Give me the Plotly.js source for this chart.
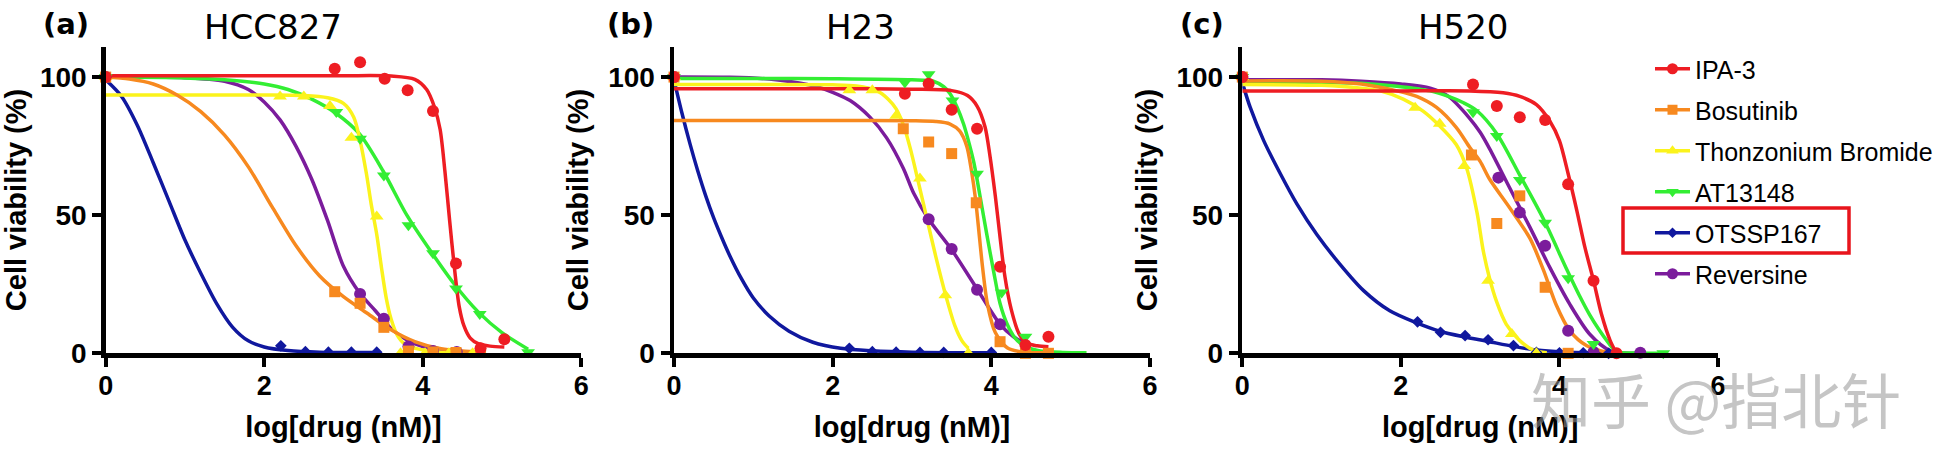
<!DOCTYPE html>
<html><head><meta charset="utf-8">
<script src="https://cdn.plot.ly/plotly-3.0.1.min.js"></script>
<style>html,body{margin:0;padding:0;background:#fff;}#chart{width:1946px;height:474px;}</style>
</head><body><div id="chart"></div>
<script>
// ---------------- data ----------------
const drugs = ['IPA-3', 'Bosutinib', 'Thonzonium Bromide', 'AT13148', 'OTSSP167', 'Reversine'];
const cellLines = ['HCC827', 'H23', 'H520'];
const panelLabels = ['(a)', '(b)', '(c)'];
const xTicks = [0, 2, 4, 6];
const yTicks = [0, 50, 100];

// ---- (a) HCC827: measured points ----
const a_ipa3_x = [0, 2.89, 3.21, 3.52, 3.81, 4.13, 4.42, 4.73, 5.03];
const a_ipa3_y = [100, 103, 105.4, 99.4, 95.2, 87.7, 32.5, 1.8, 5.1];
const a_bos_x = [0, 2.89, 3.21, 3.51, 3.82, 4.13, 4.42, 4.73];
const a_bos_y = [100, 22.3, 18.1, 9.4, 0.8, 0.5, 0.3, 0.5];
const a_thz_x = [0, 2.2, 2.5, 2.83, 3.1, 3.42, 3.72, 4.03, 4.33, 4.63];
const a_thz_y = [100, 93, 93, 89.5, 78, 49.5, 0, 0, 0, 0];
const a_at_x = [0, 2.91, 3.21, 3.51, 3.82, 4.13, 4.42, 4.72, 5.33];
const a_at_y = [100, 87.4, 77.7, 64.4, 46.4, 36.2, 23.5, 14.2, 0.4];
const a_ots_x = [0, 2.21, 2.52, 2.81, 3.1, 3.42];
const a_ots_y = [100, 2.7, 0.6, 0.4, 0.4, 0.4];
const a_rev_x = [0, 3.21, 3.51, 3.82, 4.13, 4.43];
const a_rev_y = [100, 21.5, 12.5, 2.5, 0.8, 0.5];
// ---- (a) HCC827: fitted curves ----
const a_ipa3_fx = [0, 1, 2, 3, 3.6, 3.9, 4.05, 4.15, 4.22, 4.28, 4.34, 4.4, 4.46, 4.52, 4.6, 4.7, 4.85, 5.03];
const a_ipa3_fy = [100.5, 100.5, 100.5, 100.5, 100.4, 99.2, 95.5, 89, 81, 66, 48, 31, 17, 10, 5.5, 3.5, 2.6, 2.3];
const a_bos_fx = [0, 0.3, 0.6, 0.9, 1.2, 1.5, 1.8, 2.1, 2.4, 2.7, 3.0, 3.3, 3.6, 3.9, 4.2, 4.5, 4.73];
const a_bos_fy = [100, 99.3, 97.5, 93.5, 87.5, 79, 67.5, 53, 39, 28, 20.5, 14.5, 8.5, 4.2, 1.8, 0.8, 0.5];
const a_thz_fx = [0, 1, 2, 2.5, 2.8, 3.0, 3.13, 3.21, 3.29, 3.35, 3.42, 3.48, 3.54, 3.6, 3.68, 3.78, 3.95, 4.2, 4.63];
const a_thz_fy = [93.5, 93.5, 93.5, 93.3, 92.5, 90.5, 85.5, 77, 65, 54, 43, 31, 20, 12.5, 6.5, 3.2, 1.5, 0.5, 0.1];
const a_at_fx = [0, 1, 1.5, 2, 2.3, 2.6, 2.9, 3.2, 3.5, 3.8, 4.1, 4.4, 4.7, 5.0, 5.33];
const a_at_fy = [100, 99.7, 99, 97.5, 95.5, 92, 87, 79.5, 66, 50, 37, 25, 15, 7.5, 1.5];
const a_ots_fx = [0, 0.2, 0.4, 0.6, 0.8, 1.0, 1.2, 1.4, 1.6, 1.8, 2.0, 2.3, 2.7, 3.42];
const a_ots_fy = [99, 93, 82.5, 69, 55, 41, 29, 18, 9.5, 4.5, 2.3, 1, 0.4, 0.3];
const a_rev_fx = [0, 1, 1.5, 1.8, 2.0, 2.2, 2.4, 2.6, 2.8, 3.0, 3.2, 3.4, 3.6, 3.8, 4.0, 4.2, 4.43];
const a_rev_fy = [100, 99.8, 98.5, 95.5, 91, 84.5, 75, 63, 48, 31.5, 22, 15.5, 9, 4.8, 2.4, 1.2, 0.5];

// ---- (b) H23: measured points ----
const b_ipa3_x = [0, 2.91, 3.21, 3.5, 3.82, 4.11, 4.43, 4.72];
const b_ipa3_y = [100, 94, 97.6, 88.2, 81.3, 31.3, 3, 6];
const b_bos_x = [0, 2.89, 3.21, 3.5, 3.81, 4.11, 4.43, 4.72];
const b_bos_y = [100, 81.3, 76.5, 72.3, 54.5, 4.2, 0, 0];
const b_thz_x = [0, 2.21, 2.5, 2.8, 3.1, 3.42, 3.71];
const b_thz_y = [100, 95.2, 95.2, 86, 63.3, 21, 0];
const b_at_x = [0, 2.91, 3.21, 3.51, 3.82, 4.13, 4.43];
const b_at_y = [100, 98, 101, 91.5, 65, 22, 6];
const b_ots_x = [0, 2.21, 2.5, 2.8, 3.1, 3.4, 4.0];
const b_ots_y = [100, 1.8, 0.6, 0.4, 0.3, 0.3, 0.3];
const b_rev_x = [0, 3.21, 3.5, 3.82, 4.11];
const b_rev_y = [100, 48.5, 37.8, 23, 10.5];
// ---- (b) H23: fitted curves ----
const b_ipa3_fx = [0, 1, 2, 3, 3.5, 3.7, 3.82, 3.92, 3.98, 4.05, 4.11, 4.17, 4.25, 4.35, 4.45, 4.58, 4.72];
const b_ipa3_fy = [95.8, 95.8, 95.8, 95.6, 95.1, 93.3, 89.5, 82, 72, 57, 42, 28, 16, 7, 3.6, 2.7, 2.4];
const b_bos_fx = [0, 1, 2, 3, 3.3, 3.48, 3.6, 3.69, 3.75, 3.8, 3.84, 3.89, 3.95, 4.05, 4.2, 4.36, 4.72];
const b_bos_fy = [84.3, 84.3, 84.3, 84.2, 83.9, 83, 80.5, 75, 66, 56, 45, 31, 18, 7.5, 2, 0.6, 0.2];
const b_thz_fx = [0, 1, 2, 2.3, 2.56, 2.7, 2.8, 2.9, 2.98, 3.08, 3.19, 3.3, 3.42, 3.54, 3.63, 3.71];
const b_thz_fy = [97.3, 97.3, 97.2, 96.8, 95, 92, 88.5, 82, 74, 62, 48.5, 35, 21.5, 10, 4.5, 1.8];
const b_at_fx = [0, 1, 2, 3, 3.27, 3.4, 3.48, 3.57, 3.65, 3.72, 3.78, 3.86, 3.94, 4.03, 4.11, 4.2, 4.3, 4.42, 4.6, 4.9, 5.2];
const b_at_fy = [99.5, 99.5, 99.4, 99, 98.5, 96.5, 94, 89, 83, 76, 69, 56.5, 43.5, 29.5, 18, 10.5, 5.5, 2.6, 0.9, 0.3, 0.2];
const b_ots_fx = [0, 0.1, 0.2, 0.3, 0.4, 0.5, 0.6, 0.7, 0.85, 1.0, 1.2, 1.45, 1.75, 2.1, 2.5, 3.0, 4.0];
const b_ots_fy = [99, 87, 76, 66, 57, 49, 42, 35.5, 27, 20, 13.5, 8, 4, 1.8, 0.9, 0.4, 0.2];
const b_rev_fx = [0, 0.7, 1.2, 1.5, 1.8, 2.0, 2.22, 2.47, 2.68, 2.89, 3.02, 3.21, 3.5, 3.82, 4.11, 4.28, 4.43];
const b_rev_fy = [100, 99.9, 99.3, 98.2, 96.5, 94.5, 91.5, 85.5, 78, 67, 58, 48.5, 37.5, 23.3, 10.5, 6, 3.5];

// ---- (c) H520: measured points ----
const c_ipa3_x = [0, 2.91, 3.21, 3.5, 3.82, 4.11, 4.43, 4.72];
const c_ipa3_y = [100, 97.3, 89.5, 85.5, 84.5, 61.2, 26.3, 0];
const c_bos_x = [0, 2.89, 3.21, 3.5, 3.82, 4.11];
const c_bos_y = [100, 71.8, 47, 57, 23.9, 0];
const c_thz_x = [0, 2.18, 2.49, 2.8, 3.1, 3.4, 3.71];
const c_thz_y = [100, 88.9, 83.1, 67.8, 26.3, 7, 0];
const c_at_x = [0, 2.91, 3.21, 3.5, 3.82, 4.11, 4.43, 5.31];
const c_at_y = [100, 87.3, 78.7, 62.7, 47.3, 27.2, 3.4, 0];
const c_ots_x = [0, 2.21, 2.5, 2.81, 3.1, 3.42, 3.71, 4.0, 4.3, 4.62];
const c_ots_y = [100, 11.4, 7.6, 6.4, 4.9, 2.8, 0.3, 0.2, 0.2, 0];
const c_rev_x = [0, 3.23, 3.5, 3.82, 4.11, 4.43, 5.02];
const c_rev_y = [100, 63.6, 51, 38.9, 8.2, 0.5, 0.2];
// ---- (c) H520: fitted curves ----
const c_ipa3_fx = [0, 1, 2, 2.87, 3.29, 3.5, 3.71, 3.88, 4.0, 4.11, 4.22, 4.32, 4.43, 4.53, 4.64, 4.72];
const c_ipa3_fy = [95, 95, 95, 95, 94.3, 93, 90, 84, 77, 65, 51.6, 38.5, 26.3, 14.2, 4.6, 0];
const c_bos_fx = [0, 1, 1.5, 1.95, 2.2, 2.45, 2.7, 2.87, 3.0, 3.12, 3.37, 3.63, 3.8, 3.96, 4.13, 4.34, 4.59];
const c_bos_fy = [98.6, 98.5, 97.5, 95, 93, 89, 81.7, 74.5, 69.5, 63, 52.8, 41.5, 30, 17.5, 8.2, 2.8, 0.4];
const c_thz_fx = [0, 1, 1.5, 1.74, 2.03, 2.28, 2.49, 2.7, 2.83, 2.96, 3.04, 3.12, 3.21, 3.33, 3.5, 3.67, 3.84];
const c_thz_fy = [97.3, 97, 96, 95, 92, 87.7, 82.3, 75.5, 67, 51, 37, 27, 18.5, 10.5, 4.6, 1.2, 0.2];
const c_at_fx = [0, 1, 1.5, 1.95, 2.37, 2.6, 2.79, 2.96, 3.21, 3.5, 3.8, 4.09, 4.25, 4.38, 4.5, 4.6, 4.72, 5.0, 5.31];
const c_at_fy = [98.2, 98.1, 97.8, 96.7, 95, 93, 90.7, 87.8, 79.5, 64.5, 48.5, 30.5, 21, 14, 8.5, 4.5, 0.6, 0.1, 0];
const c_ots_fx = [0, 0.1, 0.27, 0.48, 0.69, 0.94, 1.23, 1.53, 1.86, 2.2, 2.49, 2.79, 3.1, 3.42, 3.71, 4.05, 4.62];
const c_ots_fy = [98, 89, 77, 65, 54, 43, 32.3, 22.7, 15.4, 11, 8, 6, 4.3, 2.5, 1.2, 0.5, 0.1];
const c_rev_fx = [0, 1, 1.5, 2, 2.37, 2.6, 2.87, 3.0, 3.12, 3.37, 3.63, 3.88, 4.13, 4.38, 4.64, 5.02];
const c_rev_fy = [99, 99, 98.5, 97.5, 96, 93, 85, 80, 74, 60, 45.5, 31, 17.8, 7, 1, 0];

// ---------------- styles ----------------
const colors = ['#ee1d23', '#f7891f', '#fbf31c', '#33ee33', '#10189e', '#7b1c9c'];
const symbols = ['circle', 'square', 'triangle-up', 'triangle-down', 'diamond', 'circle'];
const msizes = [12, 11, 12, 12, 9, 12];

const panels = [
  { pts: [[a_ipa3_x, a_ipa3_y], [a_bos_x, a_bos_y], [a_thz_x, a_thz_y], [a_at_x, a_at_y], [a_ots_x, a_ots_y], [a_rev_x, a_rev_y]],
    fit: [[a_ipa3_fx, a_ipa3_fy], [a_bos_fx, a_bos_fy], [a_thz_fx, a_thz_fy], [a_at_fx, a_at_fy], [a_ots_fx, a_ots_fy], [a_rev_fx, a_rev_fy]] },
  { pts: [[b_ipa3_x, b_ipa3_y], [b_bos_x, b_bos_y], [b_thz_x, b_thz_y], [b_at_x, b_at_y], [b_ots_x, b_ots_y], [b_rev_x, b_rev_y]],
    fit: [[b_ipa3_fx, b_ipa3_fy], [b_bos_fx, b_bos_fy], [b_thz_fx, b_thz_fy], [b_at_fx, b_at_fy], [b_ots_fx, b_ots_fy], [b_rev_fx, b_rev_fy]] },
  { pts: [[c_ipa3_x, c_ipa3_y], [c_bos_x, c_bos_y], [c_thz_x, c_thz_y], [c_at_x, c_at_y], [c_ots_x, c_ots_y], [c_rev_x, c_rev_y]],
    fit: [[c_ipa3_fx, c_ipa3_fy], [c_bos_fx, c_bos_fy], [c_thz_fx, c_thz_fy], [c_at_fx, c_at_fy], [c_ots_fx, c_ots_fy], [c_rev_fx, c_rev_fy]] }
];

const W = 1946, H = 474;
const px = v => v / W;
const py = v => 1 - v / H;
const xDomains = [[105.7, 581.2], [674.0, 1150.0], [1242.3, 1718.0]];
const yDomain = [py(353.3), py(46.7)];
const FONT = 'Liberation Sans, Arial, Helvetica, sans-serif';

const traces = [];
// legend entries (in legend order)
drugs.forEach((d, i) => {
  traces.push({
    x: [null], y: [null], xaxis: 'x3', yaxis: 'y3', type: 'scatter', mode: 'lines+markers',
    name: d, legendgroup: d, showlegend: true,
    line: { color: colors[i], width: 3.5 },
    marker: { color: colors[i], symbol: symbols[i], size: msizes[i] - 1 }
  });
});
panels.forEach((p, k) => {
  const xa = k === 0 ? 'x' : 'x' + (k + 1);
  const ya = k === 0 ? 'y' : 'y' + (k + 1);
  // fitted curves, IPA-3 drawn last (on top)
  for (let i = drugs.length - 1; i >= 0; i--) {
    traces.push({
      x: p.fit[i][0], y: p.fit[i][1], xaxis: xa, yaxis: ya, type: 'scatter', mode: 'lines',
      line: { color: colors[i], width: 3.5, shape: 'spline', smoothing: 0.8 },
      showlegend: false, hoverinfo: 'skip', cliponaxis: false, legendgroup: drugs[i]
    });
  }
  for (let i = drugs.length - 1; i >= 0; i--) {
    traces.push({
      x: p.pts[i][0], y: p.pts[i][1], xaxis: xa, yaxis: ya, type: 'scatter', mode: 'markers',
      marker: { color: colors[i], symbol: symbols[i], size: msizes[i], line: { width: 0 } },
      showlegend: false, cliponaxis: false, name: drugs[i], legendgroup: drugs[i]
    });
  }
});

const layout = {
  width: W, height: H,
  margin: { l: 0, r: 0, t: 0, b: 0 },
  paper_bgcolor: '#ffffff', plot_bgcolor: 'rgba(0,0,0,0)',
  font: { family: FONT, color: '#000' },
  showlegend: true,
  legend: {
    x: px(1650), xanchor: 'left', y: py(46), yanchor: 'top',
    font: { family: FONT, size: 25, color: '#000' },
    bgcolor: 'rgba(0,0,0,0)', borderwidth: 0, tracegroupgap: 5.5, traceorder: 'grouped', itemwidth: 35
  },
  shapes: [{
    type: 'rect', xref: 'paper', yref: 'paper',
    x0: px(1623), x1: px(1849), y0: py(253), y1: py(208),
    line: { color: '#e8141c', width: 3.5 }, fillcolor: 'rgba(0,0,0,0)'
  }],
  annotations: []
};

cellLines.forEach((c, k) => {
  const sx = k === 0 ? '' : String(k + 1);
  const d = xDomains[k];
  layout['xaxis' + sx] = {
    domain: [px(d[0]), px(d[1])], anchor: 'y' + sx, range: [0, 6], tickvals: xTicks,
    showline: true, linewidth: 4.5, linecolor: '#000', ticks: 'outside', ticklen: 9, tickwidth: 4, tickcolor: '#000',
    showgrid: false, zeroline: false, fixedrange: true, ticklabelstandoff: -4,
    tickfont: { family: FONT, size: 27, weight: 700, color: '#000' },
    title: { text: 'log[drug (nM)]', font: { family: FONT, size: 29, weight: 700, color: '#000' }, standoff: 18 }
  };
  layout['yaxis' + sx] = {
    domain: yDomain, anchor: 'x' + sx, range: [0, 111], tickvals: yTicks,
    showline: true, linewidth: 4.5, linecolor: '#000', ticks: 'outside', ticklen: 9, tickwidth: 4, tickcolor: '#000',
    showgrid: false, zeroline: false, fixedrange: true,
    tickfont: { family: FONT, size: 28, weight: 700, color: '#000' },
    title: { text: 'Cell viability (%)', font: { family: FONT, size: 29, weight: 700, color: '#000' }, standoff: 12 }
  };
});

const labelX = [65.5, 630, 1202];
const titleX = [273, 860, 1463];
panelLabels.forEach((t, k) => {
  layout.annotations.push({
    text: t, xref: 'paper', yref: 'paper', x: px(labelX[k]), y: py(23.5), xanchor: 'center', yanchor: 'middle',
    showarrow: false, font: { family: 'DejaVu Sans, sans-serif', size: 29, weight: 700, color: '#000' }
  });
  layout.annotations.push({
    text: cellLines[k], xref: 'paper', yref: 'paper', x: px(titleX[k]), y: py(27), xanchor: 'center', yanchor: 'middle',
    showarrow: false, font: { family: 'DejaVu Sans, sans-serif', size: 34, color: '#000' }
  });
});
layout.annotations.push({
  text: '知乎 @指北针', xref: 'paper', yref: 'paper', x: px(1716), y: py(397), xanchor: 'center', yanchor: 'middle',
  showarrow: false, font: { family: 'Noto Sans CJK SC, sans-serif', size: 60, color: 'rgba(150,150,150,0.55)' }
});

Plotly.newPlot('chart', traces, layout, { staticPlot: true, displayModeBar: false });
</script>
</body></html>
